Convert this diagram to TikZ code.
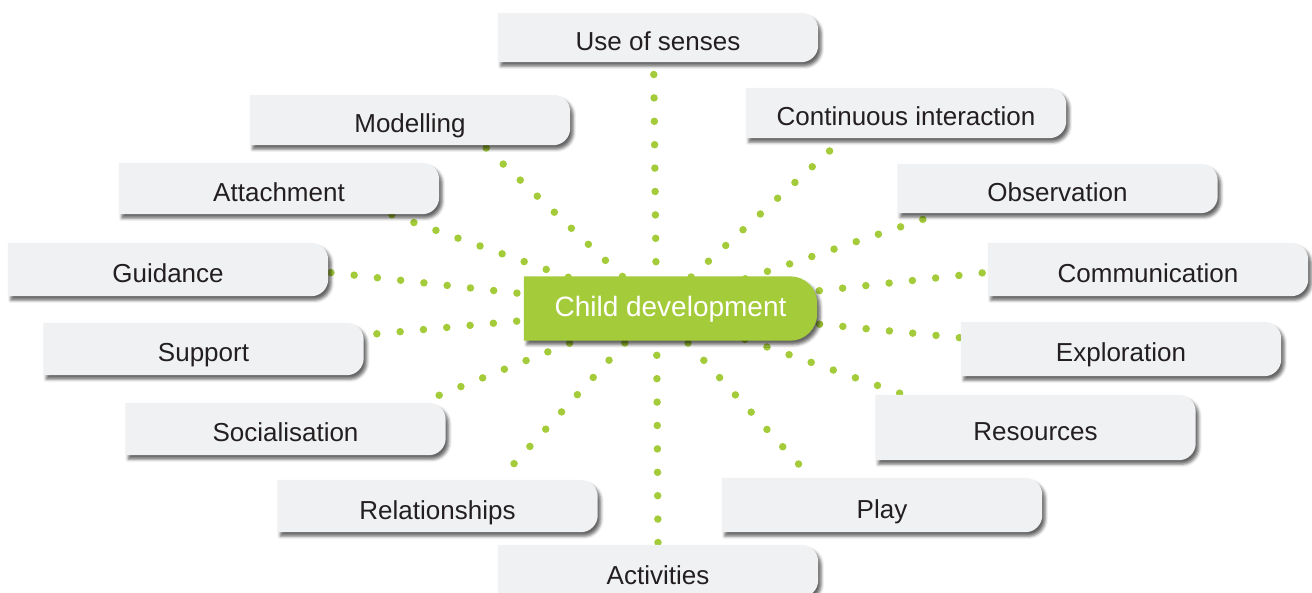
\documentclass[tikz,border=0pt]{standalone}
\usepackage{fontspec}
\setmainfont{Liberation Sans}
\usetikzlibrary{shadows.blur}

\definecolor{leafgrey}{RGB}{240,241,243}
\definecolor{hubgreen}{RGB}{164,203,58}
\definecolor{ink}{RGB}{35,31,32}

\pgfdeclarelayer{dots}
\pgfdeclarelayer{boxes}
\pgfsetlayers{dots,boxes,main}

\tikzset{
    leaf/.style={minimum width=320pt, minimum height=52pt, inner sep=0pt,
        text height=26pt, text depth=0pt, text=ink, font=\fontsize{26}{30}\selectfont},
    hubbox/.style={minimum width=293pt, minimum height=64pt, inner sep=0pt,
        text height=17pt, text depth=0pt, text=white, font=\fontsize{28}{32}\selectfont},
    greendots/.style={hubgreen, line width=7.5pt, line cap=round, dash pattern=on 0pt off 23.4pt},
    boxshadow/.style={blur shadow={shadow xshift=3pt, shadow yshift=-4pt,
        shadow blur radius=3pt, shadow opacity=60}}
}

\begin{document}
\begin{tikzpicture}[x=1pt, y=1pt]
    \useasboundingbox (0,0) rectangle (1312,-593);
    % centre box and the fourteen around it
    \node[hubbox] (child)  at (670.5,-308.5) {Child development};
    \node[leaf] (senses)   at (658,-37.5)   [minimum height=49pt] {Use of senses};
    \node[leaf] (model)    at (410,-120)    [minimum height=50pt] {Modelling};
    \node[leaf] (contin)   at (906,-113)    [minimum height=50pt] {Continuous interaction};
    \node[leaf] (attach)   at (279,-188.5)  [minimum height=51pt] {Attachment};
    \node[leaf] (observ)   at (1057.5,-188.5) [minimum height=49pt] {Observation};
    \node[leaf] (guide)    at (168,-269.5)  [minimum height=53pt] {Guidance};
    \node[leaf] (commun)   at (1148,-269.5) [minimum height=53pt] {Communication};
    \node[leaf] (support)  at (203.5,-349)  {Support};
    \node[leaf] (explor)   at (1121,-349)   [minimum height=54pt] {Exploration};
    \node[leaf] (social)   at (285.5,-429)  {Socialisation};
    \node[leaf] (resource) at (1035.5,-427.5) [minimum height=65pt] {Resources};
    \node[leaf] (relation) at (437.5,-506)  {Relationships};
    \node[leaf] (play)     at (882,-505)    [minimum height=54pt] {Play};
    \node[leaf] (activ)    at (658,-571)    {Activities};
    \coordinate (hub) at ([xshift=-14pt]child.center);

    % boxes with rounded right ends, under the texts
    \begin{pgfonlayer}{boxes}
        \foreach \n/\r/\c in {senses/17/leafgrey, model/17/leafgrey, contin/17/leafgrey,
                attach/17/leafgrey, observ/17/leafgrey, guide/17/leafgrey,
                commun/17/leafgrey, support/17/leafgrey, explor/17/leafgrey,
                social/17/leafgrey, resource/17/leafgrey, relation/17/leafgrey,
                play/17/leafgrey, activ/17/leafgrey, child/27/hubgreen}
            \fill[\c, boxshadow] (\n.south west) -- (\n.north west)
                -- ([xshift=-\r pt]\n.north east) arc[start angle=90, end angle=0, radius=\r pt]
                -- ([yshift=\r pt]\n.south east) arc[start angle=0, end angle=-90, radius=\r pt]
                -- cycle;
    \end{pgfonlayer}

    % dotted spokes
    \begin{pgfonlayer}{dots}
        \foreach \n/\a in {senses/-100, model/-19, contin/202, attach/-13, observ/192,
                guide/-1, commun/181, support/5, explor/176, social/11,
                resource/166, relation/23, play/159, activ/north}
            \draw[greendots] (hub) -- (\n.\a);
    \end{pgfonlayer}
\end{tikzpicture}
\end{document}
